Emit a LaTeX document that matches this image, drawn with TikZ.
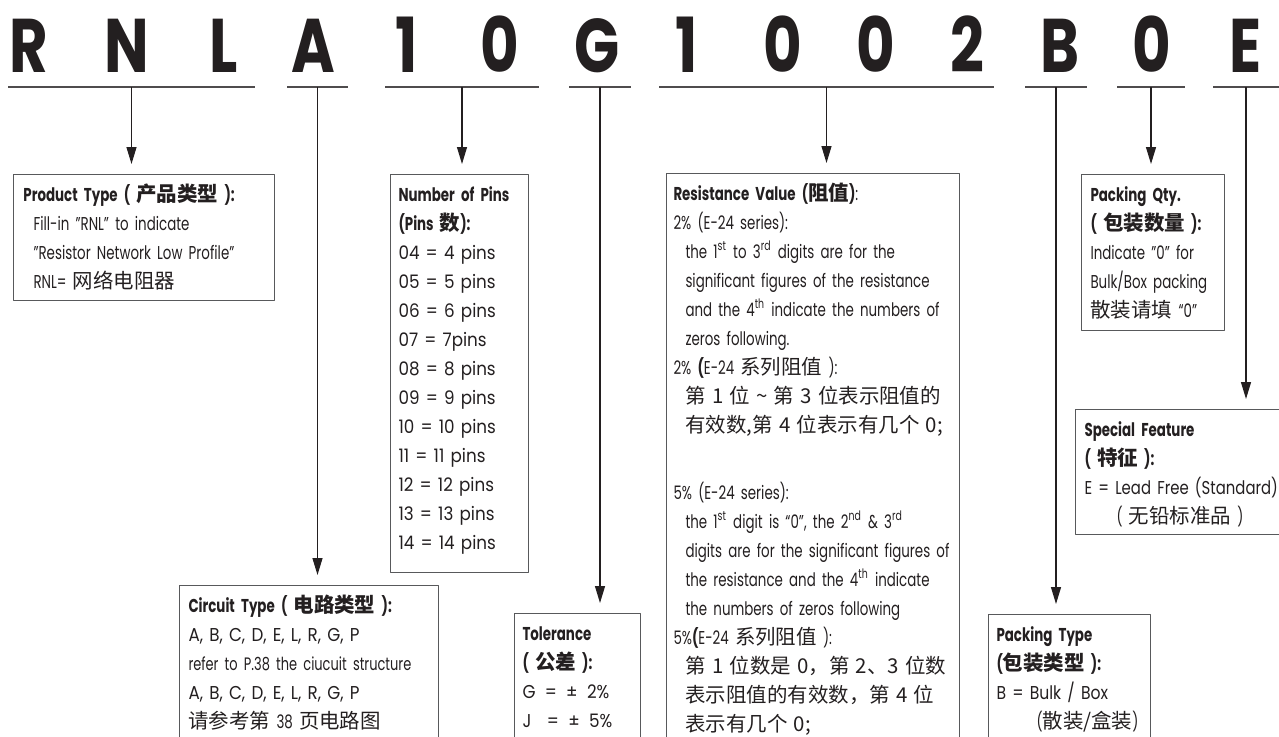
\documentclass[tikz,border=0pt]{standalone}
\usepackage{fontspec}
\setmainfont{Poppins}[FakeStretch=0.72]
\newfontfamily\widefont{Poppins}[FakeStretch=0.9]
\newfontfamily\zh{Noto Sans CJK SC}[Scale=1.1]
\newfontfamily\codefont{Poppins}[FakeStretch=0.78]
\usetikzlibrary{arrows.meta}
\definecolor{ink}{HTML}{231F20}
\definecolor{frame}{HTML}{58595B}
\tikzset{
  codechar/.style={anchor=base, inner sep=0pt, font=\codefont\bfseries\fontsize{38}{38}\selectfont},
  codeline/.style={line width=1pt, draw=ink!80},
  pointer/.style={line width=0.6pt, draw=ink, -{Triangle[length=8.5pt,width=5pt]}, shorten >=5pt},
  infobox/.style={draw=frame, line width=0.5pt, anchor=north west, align=left,
    inner ysep=0pt, text height=13.5pt},
}
\begin{document}
\begin{tikzpicture}[x=0.5pt, y=-0.5pt, line join=round, text=ink, font=\fontsize{9.3}{14.5}\selectfont]
  \useasboundingbox (0,0) rectangle (1279,736);
  \clip (0,0) rectangle (1279,736);
  \foreach \ch/\x [count=\i] in {R/29, N/127, L/224, A/313, 1/407, 0/500, G/597,
      1/687, 0/783, 0/876, 2/967, B/1060, 0/1152, E/1246}
    \node[codechar] (ch\i) at (\x,72) {\ch};
  \foreach \grp/\a/\b in {rnl/8/255, circ/287/348, pins/385/539, tol/569/631,
      val/659/994, pack/1025/1087, qty/1117/1185, feat/1213/1279}
    \draw[codeline] (\a,87) -- coordinate (u\grp) (\b,87);

  \node[infobox, text width=120.5pt, inner xsep=5pt, text depth=49.5pt] (prod) at (13,174)
    {\textbf{Product Type ( {\zh 产品类型} ):}\\
     \hspace*{5pt}Fill-in "RNL" to indicate\\
     \hspace*{5pt}"Resistor Network Low Profile"\\
     \hspace*{5pt}RNL= {\zh 网络电阻器}};
  \node[infobox, text width=61pt, inner xsep=4pt, text depth=185.5pt] (pins) at (390,174)
    {\textbf{Number of Pins}\\
     \textbf{(Pins {\zh 数}):}\\
     \widefont 04 = 4 pins\\
     05 = 5 pins\\
     06 = 6 pins\\
     07 = 7pins\\
     08 = 8 pins\\
     09 = 9 pins\\
     10 = 10 pins\\
     11 = 11 pins\\
     12 = 12 pins\\
     13 = 13 pins\\
     14 = 14 pins};
  \node[infobox, text width=139.5pt, inner xsep=3.5pt, text depth=280pt] (val) at (666,173)
    {\textbf{Resistance Value ({\zh 阻值})}:\\
     2\% (E-24 series):\\
     \hspace*{6pt}the 1\textsuperscript{st} to 3\textsuperscript{rd} digits are for the\\
     \hspace*{6pt}significant figures of the resistance\\
     \hspace*{6pt}and the 4\textsuperscript{th} indicate the numbers of\\
     \hspace*{6pt}zeros following.\\
     2\% \textbf{(}E-24 {\zh 系列阻值} ):\\
     \hspace*{6pt}{\zh 第 1 位 \textasciitilde{} 第 3 位表示阻值的}\\
     \hspace*{6pt}{\zh 有效数,第 4 位表示有几个 0;}\\[19pt]
     5\% (E-24 series):\\
     \hspace*{6pt}the 1\textsuperscript{st} digit is “0”, the 2\textsuperscript{nd} \& 3\textsuperscript{rd}\\
     \hspace*{6pt}digits are for the significant figures of\\
     \hspace*{6pt}the resistance and the 4\textsuperscript{th} indicate\\
     \hspace*{6pt}the numbers of zeros following\\
     5\%\textbf{(}E-24 {\zh 系列阻值} ):\\
     \hspace*{6pt}{\zh 第 1 位数是 0，第 2、3 位数}\\
     \hspace*{6pt}{\zh 表示阻值的有效数，第 4 位}\\
     \hspace*{6pt}{\zh 表示有几个 0;}};
  \node[infobox, text width=62.5pt, inner xsep=4.5pt, text depth=64.5pt] (qty) at (1081,174)
    {\textbf{Packing Qty.}\\
     \textbf{( {\zh 包装数量} ):}\\
     Indicate "0" for\\
     Bulk/Box packing\\
     {\zh 散装请填} “0”};
  \node[infobox, text width=121pt, inner xsep=4.5pt, text depth=49pt] (feat) at (1075,409)
    {\textbf{Special Feature}\\
     \textbf{( {\zh 特征} ):}\\
     {\addfontfeature{FakeStretch=0.8}E = Lead Free (Standard)}\\
     \hspace*{16pt}( {\zh 无铅标准品} )};
  \node[infobox, text width=73pt, inner xsep=4pt, text depth=59.5pt] (packt) at (988,614)
    {\textbf{Packing Type}\\
     \textbf{({\zh 包装类型} ):}\\
     {\addfontfeature{FakeStretch=0.84}B = Bulk / Box}\\
     \hspace*{20pt}({\zh 散装/盒装})};
  \node[infobox, text width=120.5pt, inner xsep=4.5pt, text depth=74pt] (circ) at (179,585)
    {\textbf{Circuit Type ( {\zh 电路类型} ):}\\
     {\widefont A, B, C, D, E, L, R, G, P}\\
     {\fontsize{9}{14.5}\selectfont refer to P.38 the ciucuit structure}\\
     {\widefont A, B, C, D, E, L, R, G, P}\\
     {\zh 请参考第} 38 {\zh 页电路图}};
  \node[infobox, text width=55pt, inner xsep=4pt, text depth=60pt] (tol) at (514,613)
    {\textbf{Tolerance}\\
     \textbf{( {\zh 公差} ):}\\
     {\widefont G \,=\, ± \,2\%}\\
     {\widefont J \ \,=\, ± \,5\%}};

  \foreach \grp/\tgt in {rnl/prod, circ/circ, pins/pins, tol/tol, val/val,
      pack/packt, qty/qty, feat/feat}
    \draw[pointer] (u\grp) -- (u\grp |- \tgt.north);
\end{tikzpicture}
\end{document}
